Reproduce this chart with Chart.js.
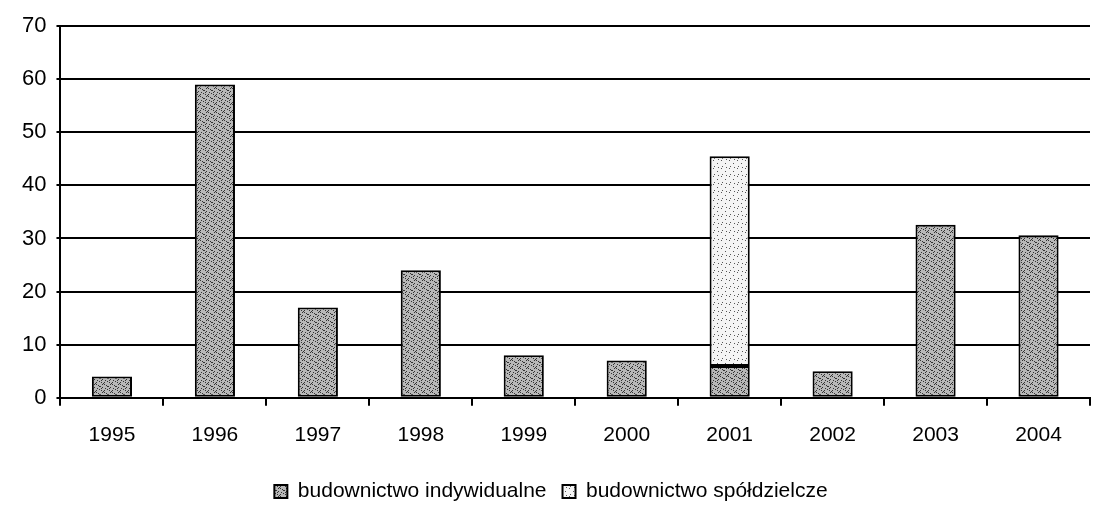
<!DOCTYPE html>
<html>
<head>
<meta charset="utf-8">
<script src="https://cdn.jsdelivr.net/npm/chart.js"></script>
<style>
  body { margin: 0; background: #fff; }
  #wrap { width: 1096px; height: 517px; }
</style>
</head>
<body>
<div id="wrap"><canvas id="bar-chart"></canvas></div>
<script>
// dane z wykresu
var lata = ['1995', '1996', '1997', '1998', '1999', '2000', '2001', '2002', '2003', '2004']
var indywidualne = [4, 59, 17, 24, 8, 7, 6, 5, 32.6, 30.6]
var spoldzielcze = [0, 0, 0, 0, 0, 0, 39.5, 0, 0, 0]
var osY = [0, 10, 20, 30, 40, 50, 60, 70]

// wzory wypelnienia (kropkowanie jak w skanie)
function wzor(tlo, kropka, gesty) {
    var c = document.createElement('canvas')
    c.width = 8
    c.height = 8
    var ctx = c.getContext('2d')
    ctx.fillStyle = tlo
    ctx.fillRect(0, 0, 8, 8)
    ctx.fillStyle = kropka
    if (gesty) {
        var pkt = [[0,0],[2,1],[4,2],[6,3],[1,4],[3,5],[5,6],[7,7],[6,0],[0,6],[3,2],[5,4]]
    } else {
        var pkt = [[1,0],[5,3],[2,6],[6,7]]
    }
    for (var i in pkt) {
        ctx.fillRect(pkt[i][0], pkt[i][1], 1, 1)
    }
    return ctx.createPattern(c, 'repeat')
}

var wzorInd = wzor('#b8b8b8', '#333333', true)
var wzorSp = wzor('#f4f4f4', '#555555', false)

var czcionka = 'Liberation Sans, Arial, sans-serif'

new Chart(document.getElementById('bar-chart'), {
    type: 'bar',
    data: {
        labels: lata,
        datasets: [{
            label: 'budownictwo indywidualne',
            data: indywidualne,
            backgroundColor: wzorInd,
            borderColor: '#000',
            borderWidth: 2,
            borderSkipped: false,
            categoryPercentage: 0.39,
            barPercentage: 1
        }, {
            label: 'budownictwo spółdzielcze',
            data: spoldzielcze,
            backgroundColor: wzorSp,
            borderColor: '#000',
            borderWidth: 2,
            borderSkipped: false,
            categoryPercentage: 0.39,
            barPercentage: 1
        }]
    },
    options: {
        responsive: true,
        maintainAspectRatio: false,
        animation: false,
        layout: { padding: { top: 26, right: 6, left: 12, bottom: 5 } },
        plugins: {
            tooltip: { enabled: false },
            legend: {
                position: 'bottom',
                labels: {
                    color: '#000',
                    font: { family: czcionka, size: 21 },
                    boxWidth: 13,
                    boxHeight: 13,
                    padding: 16
                }
            }
        },
        scales: {
            x: {
                stacked: true,
                offset: true,
                grid: { display: true, drawOnChartArea: false, offset: true, color: '#000', lineWidth: 2, tickLength: 8 },
                border: { color: '#000', width: 2 },
                ticks: { color: '#000', font: { family: czcionka, size: 21 }, padding: 17 }
            },
            y: {
                stacked: true,
                min: 0,
                max: 70,
                afterBuildTicks: function (axis) {
                    axis.ticks = osY.map(function (v) { return { value: v } })
                },
                grid: { color: '#000', lineWidth: 2, tickLength: 4 },
                border: { color: '#000', width: 2 },
                ticks: { color: '#000', font: { family: czcionka, size: 22 }, padding: 10 }
            }
        }
    }
});
</script>
</body>
</html>
